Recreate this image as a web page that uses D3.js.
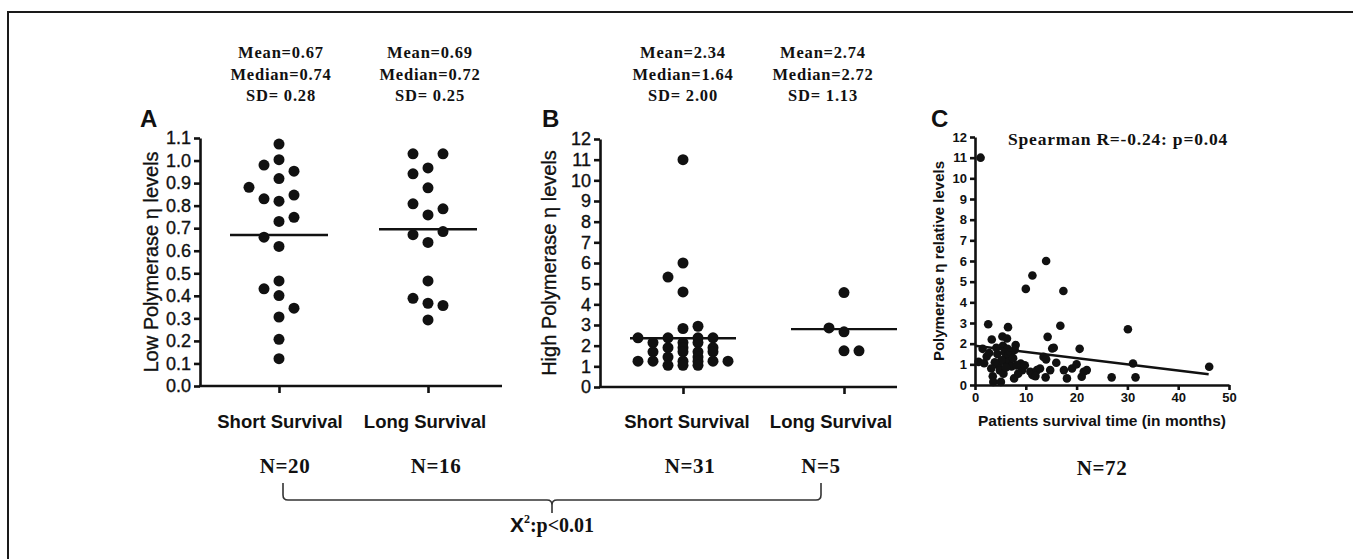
<!DOCTYPE html>
<html><head><meta charset="utf-8">
<script src="https://cdn.jsdelivr.net/npm/d3@7"></script>
<style>body{margin:0;background:#fff}svg{display:block}</style>
</head><body>
<svg id="chart" width="1353" height="559"></svg>
<script>
// ---------------- DATA ----------------
const categories = ["Short Survival", "Long Survival"];

const aShortValues = [1.073,1.004,0.98,0.953,0.92,0.881,0.83,0.82,0.847,0.73,0.748,0.66,0.619,0.466,0.431,0.401,0.345,0.306,0.207,0.121];
const aShortSlots  = [0,0,-1,1,0,-2,-1,0,1,0,1,-1,0,0,-1,0,1,0,0,0];
const aLongValues  = [1.03,1.03,0.941,0.967,0.879,0.808,0.786,0.759,0.671,0.685,0.637,0.466,0.389,0.367,0.357,0.293];
const aLongSlots   = [-1,1,-1,0,0,-1,1,0,-1,1,0,0,-1,0,1,0];
const aMeanLines   = [0.67, 0.695];

const bShortValues = [11,6.0,5.32,4.6,2.83,2.94,
  2.38,2.38,2.38,2.38, 2.15,2.15,2.15, 1.9,1.9,1.9, 1.7,1.7,1.7,1.7, 1.45,1.45,
  1.25,1.25,1.25,1.25,1.25,1.25, 1.05,1.05,1.05];
const bShortSlots  = [0,0,-1,0,0,1,
  -3,-1,1,2, -2,0,1, -1,0,2, -2,0,1,2, -1,1,
  -3,-2,0,1,2,3, -1,0,1];
const bLongValues  = [4.57,2.86,2.67,1.75,1.75];
const bLongSlots   = [0,-1,0,0,1];
const bMeanLines   = [2.36, 2.8];

const yTicksA = [0,0.1,0.2,0.3,0.4,0.5,0.6,0.7,0.8,0.9,1.0,1.1];
const yTicksB = [0,1,2,3,4,5,6,7,8,9,10,11,12];
const yTicksC = [0,1,2,3,4,5,6,7,8,9,10,11,12];
const xTicksC = [0,10,20,30,40,50];

const statsText = [
  ["Mean=0.67","Median=0.74","SD= 0.28"],
  ["Mean=0.69","Median=0.72","SD= 0.25"],
  ["Mean=2.34","Median=1.64","SD= 2.00"],
  ["Mean=2.74","Median=2.72","SD= 1.13"]
];
const nLabels = ["N=20","N=16","N=31","N=5"];

const cMonths = [1.1,14.0,11.3,10.0,17.4,2.6,6.5,16.8,30.1,3.3,5.4,6.3,14.3,8.0,15.2,20.6,1.5,0.7,1.8,2.3,
  4.4,4.6,3.5,3.6,5.1,7.7,9.0,9.3,10.9,11.3,12.2,11.9,13.5,14.0,13.9,14.8,16.0,17.5,18.1,19.1,
  20.0,21.0,21.4,22.0,26.9,31.1,31.6,46.1,5.5,5.8,6.0,6.2,6.4,6.6,6.8,7.0,7.2,5.2,4.9,5.6,
  6.1,7.5,7.8,8.2,8.5,4.2,3.9,3.2,2.8,9.8,12.8,15.5];
const cLevels = [11.0,6.0,5.3,4.65,4.55,2.94,2.8,2.87,2.7,2.2,2.35,2.25,2.33,1.93,1.77,1.75,1.75,1.12,1.05,1.38,
  1.5,0.96,0.42,0.15,0.15,0.32,1.04,0.72,0.64,0.48,0.72,0.43,1.36,1.24,0.37,0.72,1.08,0.72,0.32,0.8,
  1.0,0.4,0.64,0.72,0.37,1.04,0.37,0.88,1.9,1.6,1.3,1.0,1.75,1.45,1.15,1.6,0.9,1.2,0.7,0.55,
  0.85,1.3,1.7,0.95,0.55,1.8,1.1,0.8,1.55,0.95,0.8,1.8];
const fitIntercept = 1.9, fitSlope = -0.03, fitRange = [0, 46];
const spearmanText = "Spearman R=-0.24: p=0.04";

// ---------------- DRAW ----------------
const svg = d3.select("#chart");
const SANS = "'Liberation Sans', Arial, sans-serif";
const SERIF = "'Liberation Serif', 'Times New Roman', serif";
const INK = "#111";

// outer frame
svg.append("rect").attr("x", 8).attr("y", 12).attr("width", 1400).attr("height", 600)
  .attr("fill", "none").attr("stroke", "#1a1a1a").attr("stroke-width", 2);

function styleAxis(g, fontSize, weight, thick) {
  g.selectAll("path,line").attr("stroke", INK).attr("stroke-width", 2.6);
  g.selectAll("text").attr("fill", INK).style("font-family", SANS)
    .style("font-size", fontSize + "px").style("font-weight", weight)
    .attr("stroke", thick ? INK : "none").attr("stroke-width", thick || 0);
}

function dotPanel(cfg) {
  const y = d3.scaleLinear().domain(cfg.yDomain).range([cfg.y0, cfg.y1]);
  const x = d3.scalePoint().domain(categories).range(cfg.xCats);
  const slot = d3.scaleLinear().domain([-1, 1]).range([-15, 15]);
  const g = svg.append("g");

  const ya = g.append("g").attr("transform", `translate(${cfg.xAxis0},0)`)
    .call(d3.axisLeft(y).tickValues(cfg.yTicks).tickFormat(cfg.fmt).tickSize(6).tickSizeOuter(0).tickPadding(3));
  styleAxis(ya, 18, "normal", 0.35);
  const xa = g.append("g").attr("transform", `translate(0,${cfg.y0})`)
    .call(d3.axisBottom(x).tickSize(7).tickFormat(""));
  xa.select(".domain").remove();
  styleAxis(xa, 16, "bold", 0);
  g.append("line").attr("x1", cfg.xAxis0 - 1).attr("x2", cfg.xAxis1)
    .attr("y1", cfg.y0).attr("y2", cfg.y0).attr("stroke", INK).attr("stroke-width", 2.6);

  cfg.series.forEach((s, i) => {
    const cx = x(categories[i]);
    g.selectAll(null).data(s.values.map((v, k) => ({v, s: s.slots[k]}))).join("circle")
      .attr("cx", d => cx + slot(d.s)).attr("cy", d => y(d.v)).attr("r", 5.5).attr("fill", INK);
    g.append("line").attr("x1", cx - cfg.meanHalf).attr("x2", cx + cfg.meanHalf)
      .attr("y1", y(cfg.means[i])).attr("y2", y(cfg.means[i]))
      .attr("stroke", INK).attr("stroke-width", 2.4);
  });

  g.append("text").attr("x", cfg.letterX).attr("y", 127).text(cfg.letter)
    .style("font-family", SANS).style("font-weight", "bold").style("font-size", "24px").attr("fill", INK);
  g.append("text").attr("transform", `translate(${cfg.titleX},${(cfg.y0 + cfg.y1) / 2}) rotate(-90)`)
    .attr("text-anchor", "middle").text(cfg.yTitle)
    .style("font-family", SANS).style("font-size", "20px").attr("fill", INK)
    .attr("stroke", INK).attr("stroke-width", 0.35);
  categories.forEach((c, i) => {
    g.append("text").attr("x", x(c) + cfg.labelDx[i]).attr("y", 428).attr("text-anchor", "middle").text(c)
      .style("font-family", SANS).style("font-weight", "bold").style("font-size", "18.5px").attr("fill", INK);
    cfg.stats[i].forEach((t, j) => {
      g.append("text").attr("x", x(c) + cfg.statDx[i]).attr("y", 58 + j * 21.5).attr("text-anchor", "middle").text(t)
        .style("font-family", SERIF).style("font-weight", "bold").style("font-size", "16.5px")
        .style("letter-spacing", "0.8px").attr("fill", INK);
    });
    g.append("text").attr("x", x(c) + cfg.nDx[i]).attr("y", 473).attr("text-anchor", "middle").text(cfg.nLabels[i])
      .style("font-family", SERIF).style("font-weight", "bold").style("font-size", "21px")
      .style("letter-spacing", "0.6px").attr("fill", INK);
  });
  return x;
}

const xA = dotPanel({
  yDomain: [0, 1.1], y0: 386, y1: 138, xCats: [279, 428], xAxis0: 200, xAxis1: 502,
  yTicks: yTicksA, fmt: d3.format(".1f"),
  series: [{values: aShortValues, slots: aShortSlots}, {values: aLongValues, slots: aLongSlots}],
  means: aMeanLines, meanHalf: 49,
  letter: "A", letterX: 140, titleX: 158, yTitle: "Low Polymerase \u03b7 levels",
  labelDx: [1, -3], statDx: [2, 2], nDx: [6, 8], stats: statsText.slice(0, 2), nLabels: nLabels.slice(0, 2)
});
const xB = dotPanel({
  yDomain: [0, 12], y0: 387, y1: 139, xCats: [683, 844], xAxis0: 600, xAxis1: 897,
  yTicks: yTicksB, fmt: d3.format("d"),
  series: [{values: bShortValues, slots: bShortSlots}, {values: bLongValues, slots: bLongSlots}],
  means: bMeanLines, meanHalf: 53,
  letter: "B", letterX: 542, titleX: 556, yTitle: "High Polymerase \u03b7 levels",
  labelDx: [4, -13], statDx: [0, -21], nDx: [7, -23], stats: statsText.slice(2, 4), nLabels: nLabels.slice(2, 4)
});

// ---------- Panel C ----------
const xC = d3.scaleLinear().domain([0, 50]).range([975, 1229]);
const yC = d3.scaleLinear().domain([0, 12]).range([385, 137]);
const gC = svg.append("g");
const cya = gC.append("g").attr("transform", `translate(${xC(0)},0)`)
  .call(d3.axisLeft(yC).tickValues(yTicksC).tickFormat(d3.format("d")).tickSize(5).tickSizeOuter(0).tickPadding(3));
styleAxis(cya, 13, "bold", 0);
const cxa = gC.append("g").attr("transform", `translate(0,${yC(0)})`)
  .call(d3.axisBottom(xC).tickValues(xTicksC).tickFormat(d3.format("d")).tickSize(5).tickSizeOuter(0).tickPadding(3));
styleAxis(cxa, 13, "bold", 0);
gC.selectAll(null).data(cMonths.map((m, i) => ({m, v: cLevels[i]}))).join("circle")
  .attr("cx", d => xC(d.m)).attr("cy", d => yC(d.v)).attr("r", 4.3).attr("fill", INK);
gC.append("line").attr("x1", xC(fitRange[0])).attr("x2", xC(fitRange[1]))
  .attr("y1", yC(fitIntercept + fitSlope * fitRange[0])).attr("y2", yC(fitIntercept + fitSlope * fitRange[1]))
  .attr("stroke", INK).attr("stroke-width", 2.4);
gC.append("text").attr("x", 931).attr("y", 127).text("C")
  .style("font-family", SANS).style("font-weight", "bold").style("font-size", "24px").attr("fill", INK);
gC.append("text").attr("transform", `translate(944,${(yC(0) + yC(12)) / 2}) rotate(-90)`)
  .attr("text-anchor", "middle").text("Polymerase \u03b7 relative levels")
  .style("font-family", SANS).style("font-weight", "bold").style("font-size", "15px").attr("fill", INK);
gC.append("text").attr("x", (xC(0) + xC(50)) / 2).attr("y", 426).attr("text-anchor", "middle")
  .text("Patients survival time (in months)")
  .style("font-family", SANS).style("font-weight", "bold").style("font-size", "15.5px").attr("fill", INK);
gC.append("text").attr("x", 1118).attr("y", 145).attr("text-anchor", "middle").text(spearmanText)
  .style("font-family", SERIF).style("font-weight", "bold").style("font-size", "17.5px")
  .style("letter-spacing", "0.8px").attr("fill", INK);
gC.append("text").attr("x", (xC(0) + xC(50)) / 2).attr("y", 475).attr("text-anchor", "middle").text("N=72")
  .style("font-family", SERIF).style("font-weight", "bold").style("font-size", "21px")
  .style("letter-spacing", "0.6px").attr("fill", INK);

// ---------- Bracket & chi-square ----------
const bx0 = xA(categories[0]) + 4, bx1 = xB(categories[1]) - 23, bxc = (bx0 + bx1) / 2;
const bTop = 483, bMid = 500, bBot = 513, rr = 5;
const p = d3.path();
p.moveTo(bx0, bTop); p.lineTo(bx0, bMid - rr); p.quadraticCurveTo(bx0, bMid, bx0 + rr, bMid);
p.lineTo(bxc - rr, bMid); p.quadraticCurveTo(bxc, bMid, bxc, bMid + rr); p.lineTo(bxc, bBot);
p.moveTo(bxc, bMid + rr); p.quadraticCurveTo(bxc, bMid, bxc + rr, bMid);
p.lineTo(bx1 - rr, bMid); p.quadraticCurveTo(bx1, bMid, bx1, bMid - rr); p.lineTo(bx1, bTop);
svg.append("path").attr("d", p.toString()).attr("fill", "none").attr("stroke", "#333").attr("stroke-width", 1.6);

const chi = svg.append("text").attr("x", bxc).attr("y", 532).attr("text-anchor", "middle").attr("fill", INK);
chi.append("tspan").text("X").style("font-family", SANS).style("font-weight", "bold").style("font-size", "21px");
chi.append("tspan").text("2").attr("dy", -9).style("font-family", SERIF).style("font-weight", "bold").style("font-size", "12px");
chi.append("tspan").text(":p<0.01").attr("dy", 9).style("font-family", SERIF).style("font-weight", "bold").style("font-size", "20px");
</script>
</body></html>
